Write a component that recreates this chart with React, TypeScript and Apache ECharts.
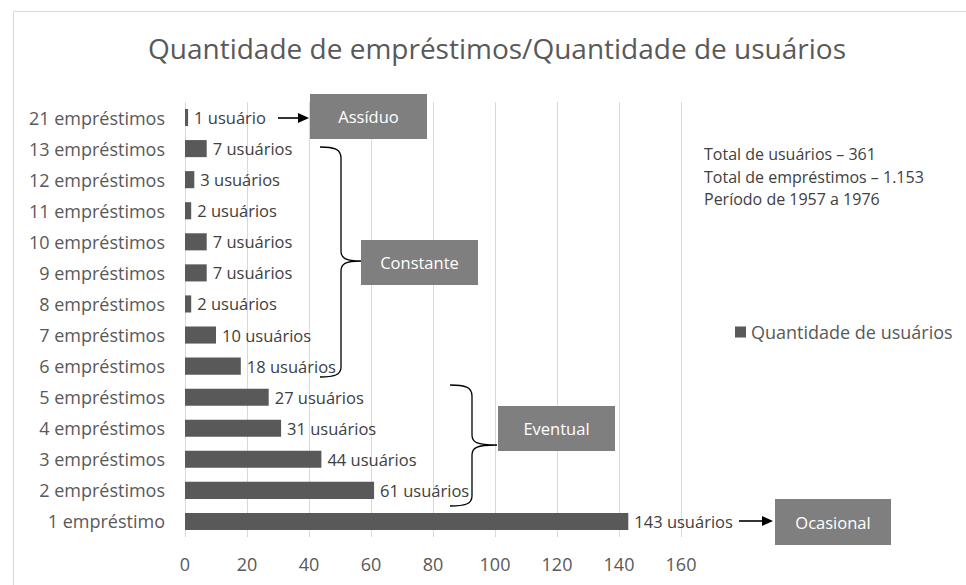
import React, { useEffect, useRef } from "react";
import * as echarts from "echarts";

const categories = [
  "1 empréstimo",
  "2 empréstimos",
  "3 empréstimos",
  "4 empréstimos",
  "5 empréstimos",
  "6 empréstimos",
  "7 empréstimos",
  "8 empréstimos",
  "9 empréstimos",
  "10 empréstimos",
  "11 empréstimos",
  "12 empréstimos",
  "13 empréstimos",
  "21 empréstimos",
];
const usuarios = [143, 61, 44, 31, 27, 18, 10, 2, 7, 7, 2, 3, 7, 1];
const xMin = 0;
const xMax = 160;
const xInterval = 20;
const seriesName = "Quantidade de usuários";
const titleText = "Quantidade de empréstimos/Quantidade de usuários";
const notes = [
  "Total de usuários – 361",
  "Total de empréstimos – 1.153",
  "Período de 1957 a 1976",
];
const groupNames = ["Assíduo", "Constante", "Eventual", "Ocasional"];

const FONT = '"Open Sans", "Noto Sans", sans-serif';

let registered = false;
function registerShapes() {
  if (registered) return;
  registered = true;
  const braceC =
    "M320,147 C334,147 341,149 341,158 L341,251 C341,258 345,261 361,261 C345,261 341,264 341,271 L341,367 C341,375 334,377 320,377";
  const braceE =
    "M450,385 C465,385 472,387 472,396 L472,435 C472,442 476,445 497,445 C476,445 472,448 472,455 L472,496 C472,504 465,506 450,506";
  echarts.graphic.registerShape("braceC", echarts.graphic.extendPath(braceC, {}));
  echarts.graphic.registerShape("braceE", echarts.graphic.extendPath(braceE, {}));
}

function box(x: number, y: number, w: number, h: number, label: string) {
  return [
    {
      type: "rect",
      shape: { x, y, width: w, height: h },
      style: { fill: "#7f7f7f" },
      z: 10,
    },
    {
      type: "text",
      z: 11,
      style: {
        text: label,
        x: x + w / 2,
        y: y + h / 2,
        fill: "#ffffff",
        font: `500 16.5px ${FONT}`,
        textAlign: "center",
        align: "center",
        textVerticalAlign: "middle",
        verticalAlign: "middle",
      },
    },
  ];
}

function arrow(x1: number, x2: number, y: number) {
  return [
    {
      type: "line",
      z: 10,
      shape: { x1, y1: y, x2: x2 - 9, y2: y },
      style: { stroke: "#000", lineWidth: 1.6 },
    },
    {
      type: "polygon",
      z: 10,
      shape: {
        points: [
          [x2 - 11, y - 5],
          [x2, y],
          [x2 - 11, y + 5],
        ],
      },
      style: { fill: "#000" },
    },
  ];
}

export default function App() {
  const ref = useRef<HTMLDivElement>(null);

  useEffect(() => {
    if (!ref.current) return;
    registerShapes();
    const chart = echarts.init(ref.current, null, { renderer: "svg" });

    const graphics: any[] = [
      {
        type: "rect",
        z: 0,
        shape: { x: 13.5, y: 11.5, width: 1000, height: 700 },
        style: { fill: "none", stroke: "#d9d9d9", lineWidth: 1 },
      },
      ...box(310, 94, 117, 45, groupNames[0]),
      ...box(361, 240, 117, 45, groupNames[1]),
      ...box(498, 406, 117, 45, groupNames[2]),
      ...box(775, 499, 116, 46, groupNames[3]),
      ...arrow(278, 309, 118),
      ...arrow(739, 773, 521),
      {
        type: "braceC",
        z: 10,
        x: 0,
        y: 0,
        style: { fill: "none", stroke: "#000", lineWidth: 1.3 },
      },
      {
        type: "braceE",
        z: 10,
        x: 0,
        y: 0,
        style: { fill: "none", stroke: "#000", lineWidth: 1.3 },
      },
      ...notes.map((t, i) => ({
        type: "text",
        z: 10,
        style: {
          text: t,
          x: 704,
          y: 154 + i * 22.5,
          fill: "#404040",
          font: `16px ${FONT}`,
          textAlign: "left",
          align: "left",
          textVerticalAlign: "middle",
          verticalAlign: "middle",
        },
      })),
    ];

    chart.setOption({
      animation: false,
      backgroundColor: "#ffffff",
      title: {
        text: titleText,
        left: 497,
        top: 34,
        padding: 0,
        textAlign: "center",
        textStyle: {
          fontFamily: FONT,
          fontSize: 28,
          fontWeight: "normal",
          color: "#595959",
        },
      },
      legend: {
        data: [seriesName],
        left: 735,
        top: 323,
        padding: 0,
        icon: "rect",
        itemWidth: 11,
        itemHeight: 11,
        textStyle: { fontFamily: FONT, fontSize: 18, color: "#595959" },
      },
      grid: {
        left: 185,
        right: 966 - 681,
        top: 102,
        bottom: 585 - 537,
        containLabel: false,
      },
      xAxis: {
        type: "value",
        min: xMin,
        max: xMax,
        interval: xInterval,
        axisLine: { show: false },
        axisTick: { show: false },
        splitLine: { show: true, lineStyle: { color: "#d9d9d9", width: 1 } },
        axisLabel: {
          fontFamily: FONT,
          fontSize: 18,
          color: "#595959",
          margin: 18,
        },
      },
      yAxis: {
        type: "category",
        data: categories,
        axisLine: { show: false },
        axisTick: { show: false },
        axisLabel: {
          fontFamily: FONT,
          fontSize: 18,
          color: "#595959",
          margin: 20,
        },
      },
      series: [
        {
          name: seriesName,
          type: "bar",
          data: usuarios,
          barWidth: "55%",
          itemStyle: { color: "#595959" },
          label: {
            show: true,
            position: "right",
            distance: 6,
            fontFamily: FONT,
            fontSize: 16.5,
            color: "#404040",
            formatter: (p: any) =>
              p.value === 1 ? `${p.value} usuário` : `${p.value} usuários`,
          },
        },
      ],
      graphic: graphics,
    });

    return () => chart.dispose();
  }, []);

  return (
    <div
      ref={ref}
      style={{ position: "absolute", left: 0, top: 0, width: 966, height: 585 }}
    />
  );
}
